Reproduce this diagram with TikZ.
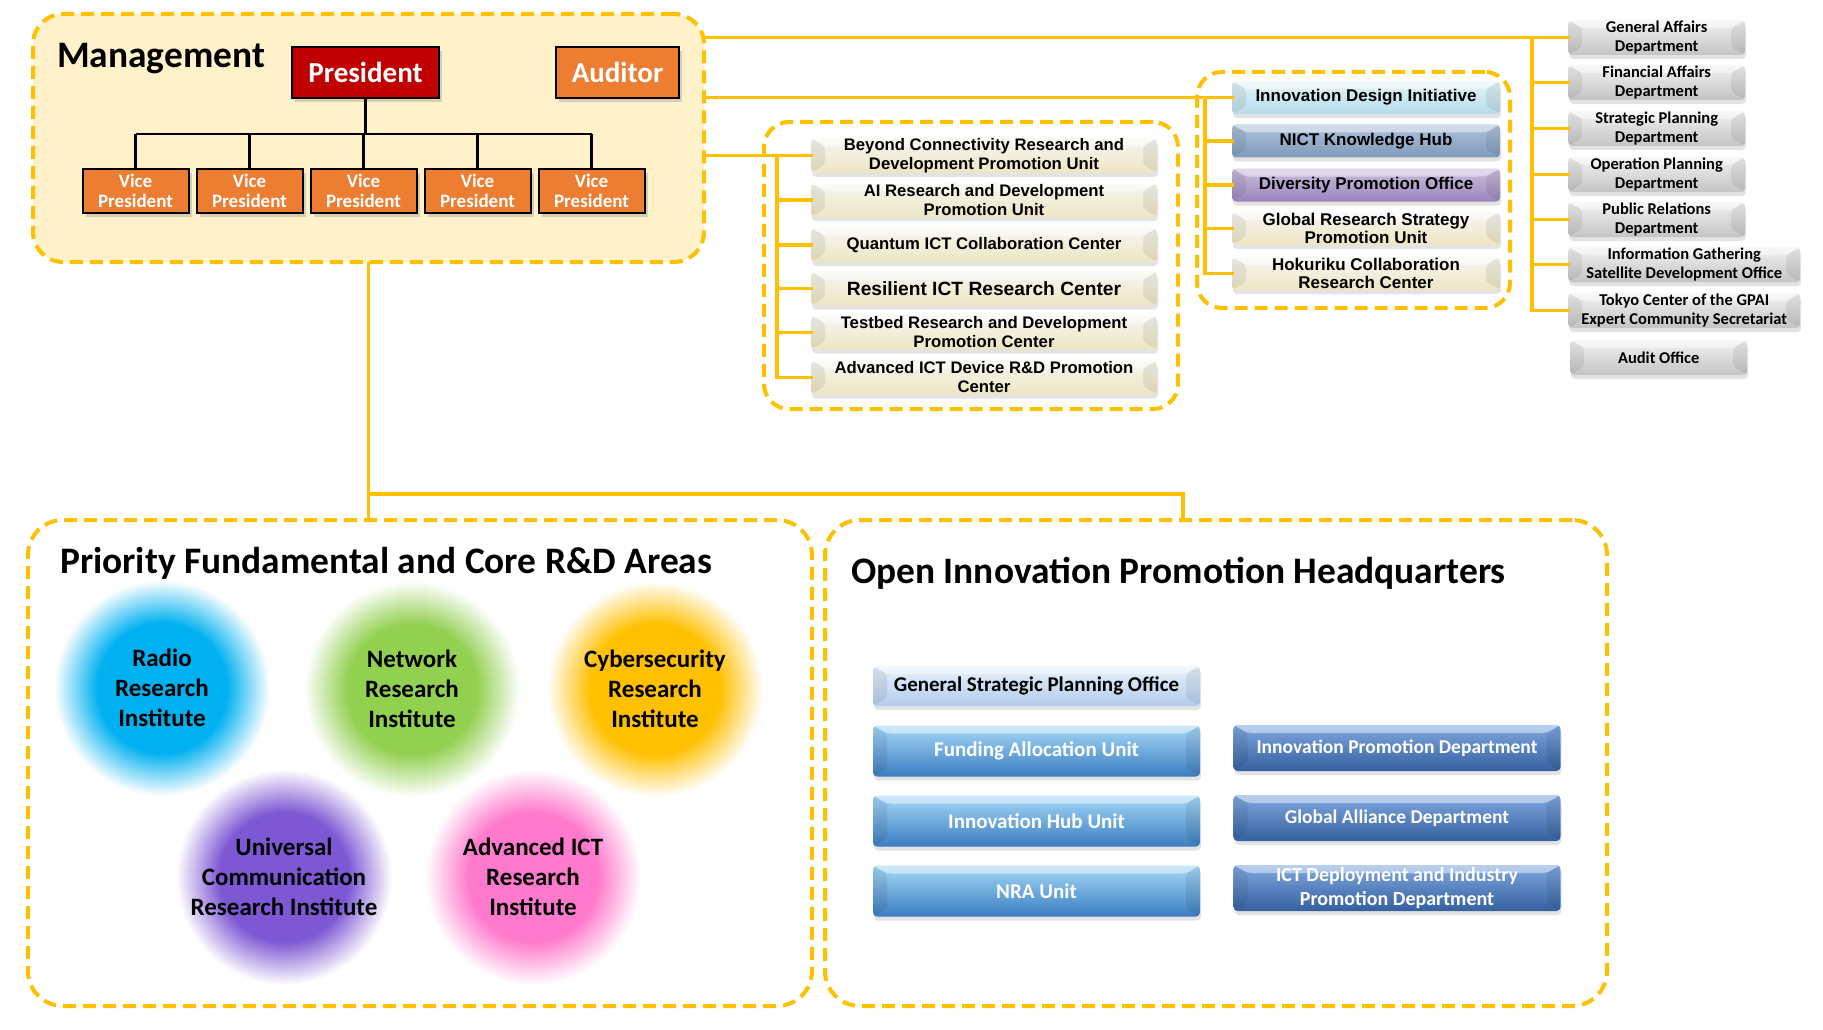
\documentclass[tikz,border=0pt]{standalone}
\usepackage{fontspec}
\setmainfont{Carlito}
\newfontfamily\arialfont{Liberation Sans}
\usetikzlibrary{shadows,calc}

\definecolor{gold}{HTML}{FFC000}
\definecolor{mgmtfill}{HTML}{FFF1C9}
\definecolor{presred}{HTML}{C00000}
\definecolor{vporange}{HTML}{ED7D31}
\definecolor{creamtop}{HTML}{F7F7F2}
\definecolor{creambot}{HTML}{EDE5C2}
\definecolor{greytop}{HTML}{F2F2F2}
\definecolor{greybot}{HTML}{C4C4C4}
\definecolor{idetop}{HTML}{E6F4F8}
\definecolor{idebot}{HTML}{B6DCE9}
\definecolor{hubtop}{HTML}{AFC2DA}
\definecolor{hubbot}{HTML}{7F9ABC}
\definecolor{divtop}{HTML}{CBBEDD}
\definecolor{divbot}{HTML}{9A85BC}
\definecolor{paletop}{HTML}{E8F1FB}
\definecolor{palebot}{HTML}{B2CCEB}
\definecolor{skytop}{HTML}{A6D8F8}
\definecolor{skymid}{HTML}{62A8E3}
\definecolor{skybot}{HTML}{3A7DC0}
\definecolor{navytop}{HTML}{80A8E0}
\definecolor{navymid}{HTML}{4B78C0}
\definecolor{navybot}{HTML}{34609F}
\definecolor{radioblue}{HTML}{00B0F0}
\definecolor{netgreen}{HTML}{92D050}
\definecolor{cyberyellow}{HTML}{FFC000}
\definecolor{univpurple}{HTML}{7E58D4}
\definecolor{advpink}{HTML}{FF7ACC}

\colorlet{glowcol}{white}
\pgfdeclareradialshading[glowcol]{glow}{\pgfpointorigin}{color(0bp)=(glowcol); color(15bp)=(glowcol); color(25bp)=(white); color(50bp)=(white)}

\newcommand{\fsz}[2]{\fontsize{#1}{#2}\selectfont}

\tikzset{
  area/.style={draw=gold, line width=4pt, dash pattern=on 13pt off 7pt, rounded corners=30pt},
  areatitle/.style={anchor=base west, inner sep=0pt, font=\fsz{37.4}{44}\bfseries},
  orgbox/.style={draw=black, line width=2pt, text=white, inner sep=0pt, align=center,
    drop shadow={shadow xshift=3pt, shadow yshift=-4pt, opacity=.3}},
  tree/.style={line width=2.5pt},
  link/.style={draw=gold, line width=3.5pt, line cap=rect},
  bevel/.style={path picture={
    \fill[white,opacity=.45] (path picture bounding box.north west) -- (path picture bounding box.north east)
      -- ([shift={(-14pt,-8pt)}]path picture bounding box.north east) -- ([shift={(14pt,-8pt)}]path picture bounding box.north west) -- cycle;
    \fill[black,opacity=.07] (path picture bounding box.north west) -- ([shift={(14pt,-8pt)}]path picture bounding box.north west)
      -- ([shift={(14pt,8pt)}]path picture bounding box.south west) -- (path picture bounding box.south west) -- cycle;
    \fill[black,opacity=.07] (path picture bounding box.north east) -- ([shift={(-14pt,-8pt)}]path picture bounding box.north east)
      -- ([shift={(-14pt,8pt)}]path picture bounding box.south east) -- (path picture bounding box.south east) -- cycle;
  }},
  btn/.style={bevel, rounded corners=4pt, inner sep=0pt, align=center,
    drop shadow={shadow xshift=1pt, shadow yshift=-4pt, opacity=.22}},
  creambtn/.style={btn, top color=creamtop, bottom color=creambot, minimum width=346pt, minimum height=34pt,
    font=\arialfont\fsz{16.7}{19}\bfseries},
  innobtn/.style={btn, minimum width=268pt, minimum height=33pt, font=\arialfont\fsz{17}{18.5}\bfseries},
  greybtn/.style={btn, top color=greytop, bottom color=greybot, anchor=west, minimum width=177pt, minimum height=35pt,
    font=\fsz{16.5}{19}\bfseries},
  skybtn/.style={btn, top color=skytop, middle color=skymid, bottom color=skybot, text=white,
    minimum width=327pt, minimum height=51pt, font=\fsz{21}{24}\bfseries},
  navybtn/.style={btn, top color=navytop, middle color=navymid, bottom color=navybot, text=white,
    minimum width=327pt, minimum height=46pt, font=\fsz{19.5}{24}\bfseries},
  glow/.style={circle, minimum size=216pt, inner sep=0pt, align=center, font=\fsz{25}{30}\bfseries,
    /utils/exec={\colorlet{glowcol}{#1}}, shade, shading=glow}
}

\begin{document}
\begin{tikzpicture}[x=1pt, y=-1pt]
\useasboundingbox (0,0) rectangle (1823,1030);

% areas
\node[area, fill=mgmtfill, minimum width=671pt, minimum height=248pt] (mgmt) at (368.5,138) {};
\node[area, rounded corners=25pt, minimum width=414pt, minimum height=287pt] (midgrp) at (971,265.5) {};
\node[area, rounded corners=25pt, minimum width=313pt, minimum height=236pt] (innogrp) at (1353.5,190) {};
\node[area, rounded corners=35pt, minimum width=784pt, minimum height=486pt] (prio) at (420,763) {};
\node[area, rounded corners=35pt, minimum width=782pt, minimum height=486pt] (openinno) at (1216,763) {};

\node[areatitle] (mgmttitle) at (57,68) {Management};
\node[areatitle] (priotitle) at (60,573) {Priority Fundamental and Core R\&D Areas};
\node[areatitle] (openinnotitle) at (851,583) {Open Innovation Promotion Headquarters};

% management
\node[orgbox, fill=presred, minimum width=147pt, minimum height=51pt, font=\fsz{29}{33}\bfseries] (pres) at (365.5,72.5) {President};
\node[orgbox, fill=vporange, minimum width=123pt, minimum height=51pt, font=\fsz{29}{33}\bfseries] (auditor) at (617.5,72.5) {Auditor};
\foreach \i/\x in {1/135.5,2/249.5,3/363.5,4/477.5,5/591.5}
  \node[orgbox, fill=vporange, minimum width=106pt, minimum height=44pt, font=\fsz{19}{20.5}\bfseries] (vp\i) at (\x,191) {Vice\\President};
\draw[tree] (pres.south) -- (pres.south |- 0,134);
\draw[tree] (vp1.north |- 0,134) -- (vp5.north |- 0,134);
\foreach \i in {1,...,5}
  \draw[tree] (vp\i.north) -- (vp\i.north |- 0,134);

% centers and units
\node[creambtn] (bcr) at (984,155.5) {Beyond Connectivity Research and\\Development Promotion Unit};
\node[creambtn] (aird) at (984,200) {AI Research and Development\\Promotion Unit};
\node[creambtn] (qicc) at (984,245) {Quantum ICT Collaboration Center};
\node[creambtn, font=\arialfont\fsz{19.2}{22}\bfseries] (ricr) at (984,288.5) {Resilient ICT Research Center};
\node[creambtn] (trdp) at (984,332.5) {Testbed Research and Development\\Promotion Center};
\node[creambtn] (aicd) at (984,377.5) {Advanced ICT Device R\&D Promotion\\Center};

\node[innobtn, top color=idetop, bottom color=idebot] (idi) at (1366,97.5) {Innovation Design Initiative};
\node[innobtn, top color=hubtop, bottom color=hubbot] (nkh) at (1366,141) {NICT Knowledge Hub};
\node[innobtn, top color=divtop, bottom color=divbot] (dpo) at (1366,185) {Diversity Promotion Office};
\node[innobtn, top color=creamtop, bottom color=creambot] (grs) at (1366,228.5) {Global Research Strategy\\Promotion Unit};
\node[innobtn, top color=creamtop, bottom color=creambot] (hok) at (1366,273.5) {Hokuriku Collaboration\\Research Center};

% departments
\node[greybtn] (gad) at (1568,37.5) {General Affairs\\Department};
\node[greybtn] (fad) at (1568,82.5) {Financial Affairs\\Department};
\node[greybtn] (spd) at (1568,128.5) {Strategic Planning\\Department};
\node[greybtn] (opd) at (1568,174.5) {Operation Planning\\Department};
\node[greybtn] (prd) at (1568,219.5) {Public Relations\\Department};
\node[greybtn, minimum width=232pt] (igs) at (1568,264.5) {Information Gathering\\Satellite Development Office};
\node[greybtn, minimum width=232pt] (tcg) at (1568,310.5) {Tokyo Center of the GPAI\\Expert Community Secretariat};
\node[greybtn] (aud) at (1570,357.5) {Audit Office};

% research institutes
\node[glow=radioblue] (radio) at (162,688) {Radio\\Research\\Institute};
\node[glow=netgreen] (network) at (412,689) {Network\\Research\\Institute};
\node[glow=cyberyellow] (cyber) at (655,689) {Cybersecurity\\Research\\Institute};
\node[glow=univpurple] (ucri) at (284,877) {Universal\\Communication\\Research Institute};
\node[glow=advpink] (aicr) at (533,877) {Advanced ICT\\Research\\Institute};

% open innovation
\node[skybtn, top color=paletop, middle color=paletop!50!palebot, bottom color=palebot, text=black, minimum height=40pt] (gspo) at (1036.5,686) {General Strategic Planning Office};
\node[skybtn] (fau) at (1036.5,751) {Funding Allocation Unit};
\node[skybtn] (ihu) at (1036.5,821) {Innovation Hub Unit};
\node[skybtn] (nra) at (1036.5,891) {NRA Unit};
\node[navybtn] (ipd) at (1397,748) {Innovation Promotion Department};
\node[navybtn] (gald) at (1397,818) {Global Alliance Department};
\node[navybtn, font=\fsz{20}{24}\bfseries] (ictd) at (1397,888) {ICT Deployment and Industry\\Promotion Department};

% links
\coordinate (rbus) at (1532,0);
\coordinate (ibus) at (1205,0);
\coordinate (mbus) at (777,0);
\draw[link] (mgmt.east |- gad.west) -- (gad.west);
\draw[link] (rbus |- gad.west) -- (rbus |- tcg.west);
\foreach \n in {fad,spd,opd,prd,igs,tcg}
  \draw[link] (rbus |- \n.west) -- (\n.west);
\draw[link] (mgmt.east |- idi.west) -- (idi.west);
\draw[link] (ibus |- idi.west) -- (ibus |- hok.west);
\foreach \n in {nkh,dpo,grs,hok}
  \draw[link] (ibus |- \n.west) -- (\n.west);
\draw[link] (mgmt.east |- bcr.west) -- (bcr.west);
\draw[link] (mbus |- bcr.west) -- (mbus |- aicd.west);
\foreach \n in {aird,qicc,ricr,trdp,aicd}
  \draw[link] (mbus |- \n.west) -- (\n.west);
\draw[link] (mgmt.south) -- (mgmt.south |- prio.north);
\draw[link] (mgmt.south |- 0,494) -| ([xshift=-33pt]openinno.north);
\end{tikzpicture}
\end{document}
